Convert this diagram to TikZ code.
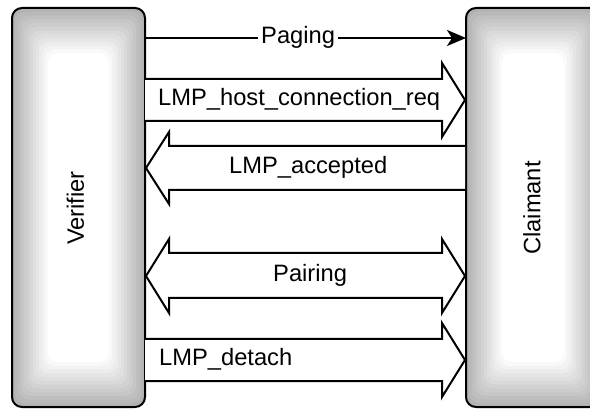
\documentclass[tikz,border=0pt]{standalone}
\usepackage{fontspec}
\setmainfont{Liberation Sans}
\usetikzlibrary{arrows.meta}
\tikzset{
  ln/.style={line width=2pt, line join=miter},
  lbl/.style={font=\fontsize{23.7}{28}\selectfont, anchor=west, inner sep=0pt, text height=16.9pt, text depth=5pt},
  vlbl/.style={font=\fontsize{23.7}{28}\selectfont, rotate=90, inner sep=0pt},
  boxborder/.style={line width=2pt, rounded corners=10pt}
}
\newcommand{\shadedbox}[4]{% x0 y0 x1 y1
  \foreach \i in {0,...,12}{
    \pgfmathsetmacro\g{30*(1-\i/12)}
    \fill[black!\g, rounded corners=10pt] (#1+3*\i,#2+3.75*\i) rectangle (#3-3*\i,#4-3.75*\i);
  }
  \draw[boxborder] (#1,#2) rectangle (#3,#4);
}
\begin{document}
\begin{tikzpicture}[x=1pt,y=-1pt]
\useasboundingbox (0,0) rectangle (590,409);
\clip (0,0) rectangle (590,409);
\fill[white] (0,0) rectangle (590,409);
% boxes
\shadedbox{12}{8}{145}{407}
\shadedbox{466}{8}{600}{407}
\node[vlbl] (ver) at (75.5,208) {Verifier};
\node[vlbl] (cla) at (532,208) {Claimant};
\coordinate (vR) at (145,38);
\coordinate (cL) at (466,38);
% Paging
\draw[ln,-{Stealth[length=19pt,width=16pt,inset=5pt]}] (vR) -- (cL);
\node[lbl, fill=white, inner xsep=3pt] (pg) at (258,38) {Paging};
% LMP_host_connection_req
\draw[ln,fill=white] (145,79) -- (442,79) -- (442,63) -- (465,100) -- (442,137) -- (442,121) -- (145,121);
\node[lbl] (hcr) at (158,100) {LMP\_host\_connection\_req};
% LMP_accepted
\draw[ln,fill=white] (465,146) -- (169,146) -- (169,132) -- (146,168) -- (169,204) -- (169,190) -- (465,190);
\node[lbl] (acc) at (229,168) {LMP\_accepted};
% Pairing
\draw[ln,fill=white] (169,253) -- (442,253) -- (442,239) -- (465,276) -- (442,313) -- (442,298) -- (169,298) -- (169,313) -- (146,276) -- (169,239) -- cycle;
\node[lbl] (pai) at (273,276) {Pairing};
% LMP_detach
\draw[ln,fill=white] (145,339) -- (442,339) -- (442,323) -- (465,360) -- (442,397) -- (442,381) -- (145,381);
\node[lbl] (det) at (159,360) {LMP\_detach};
\end{tikzpicture}
\end{document}
